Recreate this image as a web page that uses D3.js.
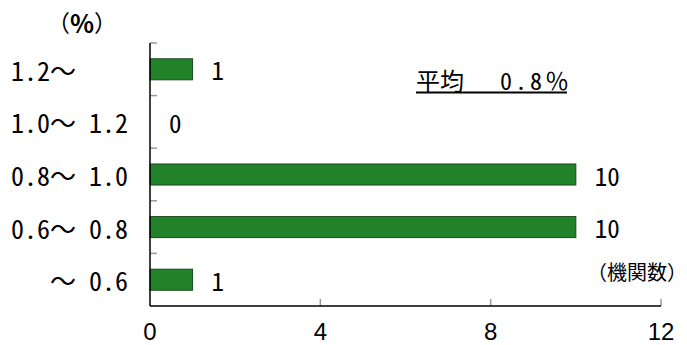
<!DOCTYPE html>
<html><head><meta charset="utf-8">
<script src="https://cdn.jsdelivr.net/npm/d3@7"></script>
<style>
html,body{margin:0;padding:0;background:#fff;}
text{font-family:"Noto Sans Mono CJK JP","Noto Sans CJK JP",sans-serif;fill:#000;}
</style></head>
<body>
<script>
const categories = ["1.2～    ", "1.0～ 1.2", "0.8～ 1.0", "0.6～ 0.8", "～ 0.6"];
const counts = [1, 0, 10, 10, 1];
const xTicks = [0, 4, 8, 12];
const avgTitle = "平均";
const avgValue = "0.8";
const avgUnit = "％";
const yUnit = ["（", "%", "）"];
const xUnit = "（機関数）";

const W = 687, H = 345;
const mLeft = 150, mRight = 661, mTop = 43, mBottom = 306;

const svg = d3.select("body").append("svg").attr("width", W).attr("height", H);

const x = d3.scaleLinear().domain([0, 12]).range([mLeft, mRight]);
const y = d3.scaleBand().domain(categories).range([mTop, mBottom]).paddingInner(0.6).paddingOuter(0.3);
const yb = d3.scaleBand().domain(categories).range([mTop, mBottom]);

// category boundary ticks (inside, gray)
svg.append("g").selectAll("line").data(categories).join("line")
  .attr("x1", mLeft).attr("x2", mLeft + 7)
  .attr("y1", d => yb(d)).attr("y2", d => yb(d))
  .attr("stroke", "#999").attr("stroke-width", 1.5);

// x ticks (inside, gray)
svg.append("g").selectAll("line").data(xTicks.slice(1)).join("line")
  .attr("x1", d => x(d)).attr("x2", d => x(d))
  .attr("y1", mBottom - 7).attr("y2", mBottom)
  .attr("stroke", "#999").attr("stroke-width", 1.5);

// bars
svg.append("g").selectAll("rect").data(categories.map((c, i) => ({c, v: counts[i]})).filter(d => d.v > 0)).join("rect")
  .attr("x", x(0)).attr("y", d => y(d.c))
  .attr("width", d => x(d.v) - x(0)).attr("height", y.bandwidth())
  .attr("fill", "#22822a").attr("stroke", "#1a4a1c").attr("stroke-width", 1);

// value labels
svg.append("g").selectAll("text").data(categories.map((c, i) => ({c, v: counts[i]}))).join("text")
  .attr("x", d => x(d.v) + 19).attr("y", d => yb(d.c) + yb.bandwidth() / 2)
  .attr("dominant-baseline", "central").attr("font-size", 25)
  .text(d => d.v);

// axes lines
svg.append("line").attr("x1", mLeft).attr("x2", mLeft).attr("y1", mTop).attr("y2", mBottom)
  .attr("stroke", "#000").attr("stroke-width", 1.5);
svg.append("line").attr("x1", mLeft).attr("x2", mRight).attr("y1", mBottom).attr("y2", mBottom)
  .attr("stroke", "#000").attr("stroke-width", 1.5);

// category labels
svg.append("g").selectAll("text").data(categories).join("text")
  .attr("x", 128).attr("y", d => yb(d) + yb.bandwidth() / 2)
  .attr("text-anchor", "end").attr("dominant-baseline", "central")
  .attr("font-size", 26).attr("xml:space", "preserve").style("white-space", "pre")
  .text(d => d);

// x tick labels
svg.append("g").selectAll("text").data(xTicks).join("text")
  .attr("x", d => x(d)).attr("y", 331)
  .attr("text-anchor", "middle").attr("dominant-baseline", "central")
  .style("font-family", "'Liberation Sans', sans-serif")
  .attr("font-size", 24).text(d => d);

// units
const yu = svg.append("text").attr("x", 82).attr("y", 22).attr("text-anchor", "middle")
  .attr("dominant-baseline", "central").attr("font-size", 23)
  .style("font-family", "'Noto Sans CJK JP', sans-serif");
yu.append("tspan").text(yUnit[0]);
yu.append("tspan").attr("font-weight", "bold").attr("font-size", 25).text(yUnit[1]);
yu.append("tspan").text(yUnit[2]);

svg.append("text").attr("x", 687).attr("y", 271).attr("text-anchor", "end")
  .attr("dominant-baseline", "central").attr("font-size", 20).text(xUnit);

// average annotation
const at = svg.append("text").attr("x", 416).attr("y", 79)
  .attr("dominant-baseline", "central").attr("font-size", 24)
  .style("white-space", "pre");
at.append("tspan").text(avgTitle + "　 ");
at.append("tspan").attr("letter-spacing", 3).text(avgValue);
at.append("tspan").text(avgUnit);
svg.append("line").attr("x1", 416).attr("x2", 567).attr("y1", 92.5).attr("y2", 92.5)
  .attr("stroke", "#000").attr("stroke-width", 2);
</script>
</body></html>
